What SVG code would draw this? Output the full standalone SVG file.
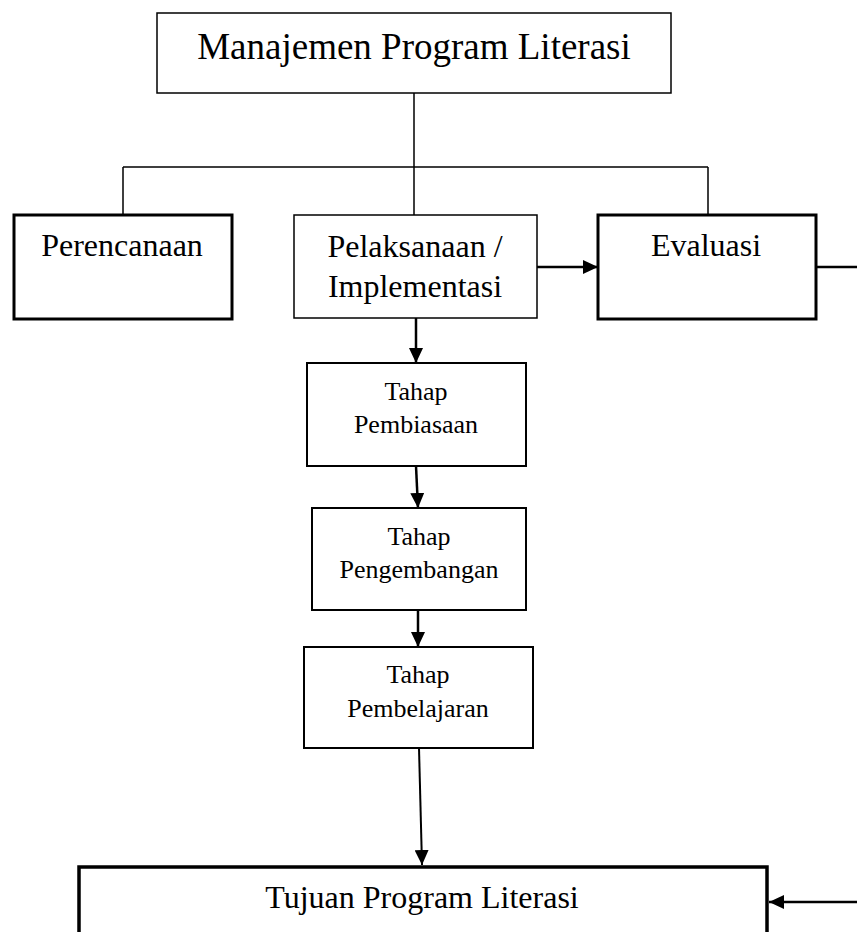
<svg xmlns="http://www.w3.org/2000/svg" width="857" height="932" viewBox="0 0 857 932">
<style>
  .box{fill:#fff;stroke:#000}
  .t{font-family:"Liberation Serif","Times New Roman",serif;fill:#000;text-anchor:middle}
  .big{font-size:32px}
  .small{font-size:26px}
  .con{stroke:#000;fill:none}
</style>
<defs>
  <marker id="ah" markerUnits="userSpaceOnUse" markerWidth="16" markerHeight="14" refX="15" refY="7" orient="auto">
    <path d="M0,0 L15,7 L0,14 z" fill="#000"/>
  </marker>
</defs>
<rect width="857" height="932" fill="#fff"/>
<g id="connectors">
  <path class="con" stroke-width="1.5" d="M414,93 V167 M123,167 H708 M123,167 V215 M414,167 V215 M708,167 V215"/>
  <line class="con" stroke-width="2.5" x1="537" y1="267" x2="598" y2="267" marker-end="url(#ah)"/>
  <line class="con" stroke-width="2.5" x1="816" y1="267" x2="857" y2="267"/>
  <line class="con" stroke-width="2.5" x1="416" y1="318" x2="416" y2="363" marker-end="url(#ah)"/>
  <line class="con" stroke-width="2.5" x1="416" y1="466" x2="418" y2="508" marker-end="url(#ah)"/>
  <line class="con" stroke-width="2.5" x1="418" y1="610" x2="418" y2="647" marker-end="url(#ah)"/>
  <line class="con" stroke-width="2" x1="419" y1="748" x2="422" y2="865" marker-end="url(#ah)"/>
  <line class="con" stroke-width="2.5" x1="857" y1="902" x2="769" y2="902" marker-end="url(#ah)"/>
</g>
<g id="manajemen">
  <rect class="box" stroke-width="1.5" x="157" y="13" width="514" height="80"/>
  <text class="t" x="414" y="59" font-size="37">Manajemen Program Literasi</text>
</g>
<g id="perencanaan">
  <rect class="box" stroke-width="3" x="14" y="215" width="218" height="104"/>
  <text class="t big" x="122" y="256">Perencanaan</text>
</g>
<g id="pelaksanaan">
  <rect class="box" stroke-width="1.5" x="294" y="215" width="243" height="103"/>
  <text class="t big" x="415" y="257">Pelaksanaan /</text>
  <text class="t big" x="415" y="297">Implementasi</text>
</g>
<g id="evaluasi">
  <rect class="box" stroke-width="3" x="598" y="215" width="218" height="104"/>
  <text class="t big" x="706" y="256">Evaluasi</text>
</g>
<g id="pembiasaan">
  <rect class="box" stroke-width="2" x="307" y="363" width="219" height="103"/>
  <text class="t small" x="416" y="400">Tahap</text>
  <text class="t small" x="416" y="433">Pembiasaan</text>
</g>
<g id="pengembangan">
  <rect class="box" stroke-width="2" x="312" y="508" width="214" height="102"/>
  <text class="t small" x="419" y="545">Tahap</text>
  <text class="t small" x="419" y="578">Pengembangan</text>
</g>
<g id="pembelajaran">
  <rect class="box" stroke-width="2" x="304" y="647" width="229" height="101"/>
  <text class="t small" x="418" y="683">Tahap</text>
  <text class="t small" x="418" y="717">Pembelajaran</text>
</g>
<g id="tujuan">
  <rect class="box" stroke-width="3.5" x="79" y="867" width="688" height="80"/>
  <text class="t big" x="422" y="908">Tujuan Program Literasi</text>
</g>
</svg>
